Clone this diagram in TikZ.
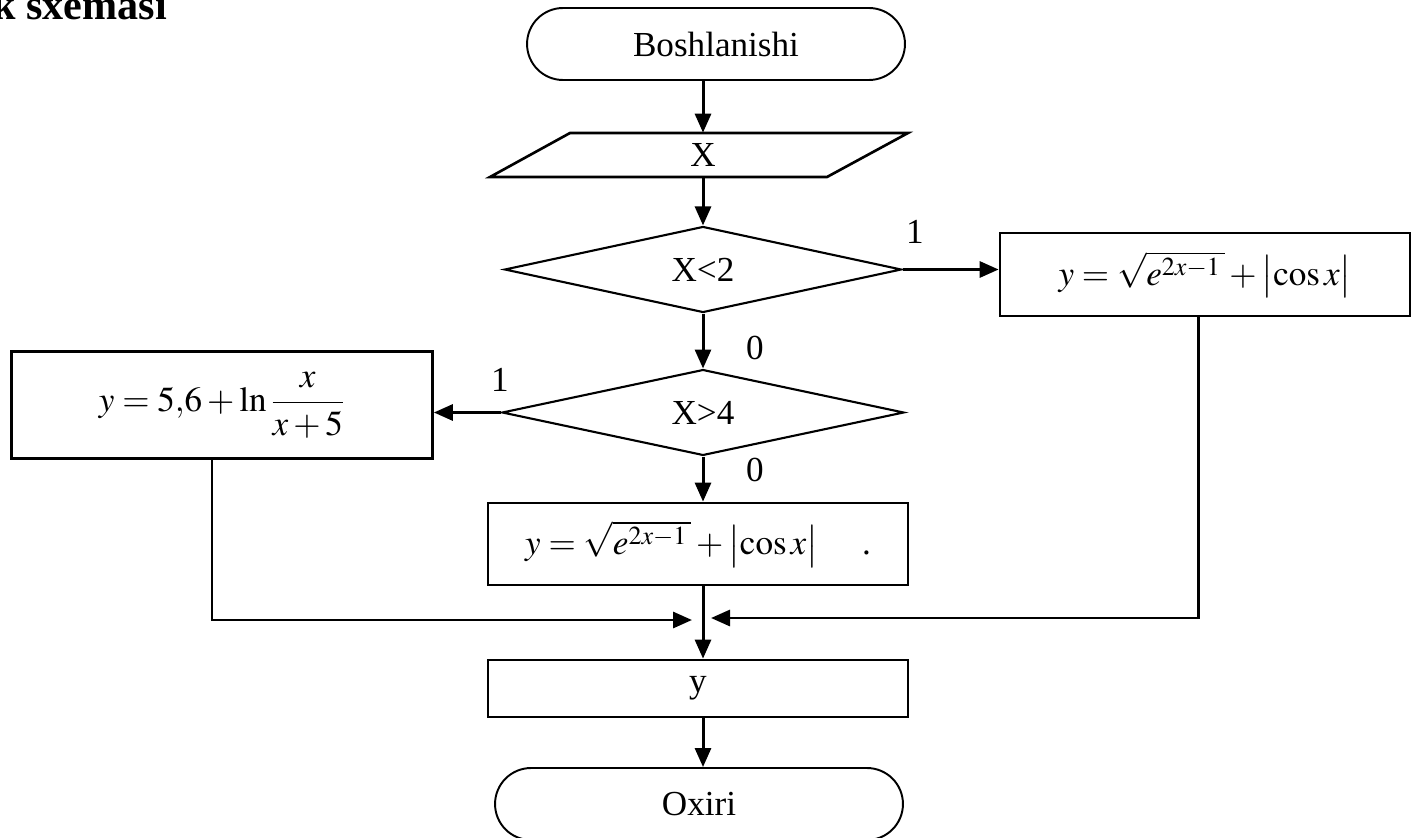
\documentclass[tikz,border=0pt]{standalone}
\usepackage{mathptmx}
\usepackage[no-math]{fontspec}
\setmainfont{Liberation Serif}
\usetikzlibrary{shapes.geometric,shapes.misc,arrows.meta}
\begin{document}
\begin{tikzpicture}[x=0.02cm,y=-0.02cm,
  line/.style={line width=1.5pt},
  arr/.style={line width=1.7pt,-{Triangle[length=0.38cm,width=0.32cm]}},
  box/.style={draw,line width=1.6pt,rectangle,inner sep=0pt},
  term/.style={draw,line width=1.1pt,rounded rectangle,inner sep=0pt},
  dec/.style={draw,line width=1.2pt,diamond,inner sep=0pt},
  lbl/.style={inner sep=0pt},
  font=\fontsize{20}{24}\selectfont]
\useasboundingbox (0,0) rectangle (1413,838);
\node[anchor=base west,inner sep=0pt,font=\fontsize{24}{28}\selectfont\bfseries] (title) at (-8,20) {k sxemasi};
\coordinate (col) at (703,0);
\coordinate (lx) at (212,0);
\coordinate (rx) at (1198,0);
\coordinate (jl) at (692,620);
\coordinate (jr) at (711,618);
\node[term,minimum width=7.56cm,minimum height=1.44cm] (start) at (716,44) {Boshlanishi};
\node[lbl,minimum width=6.76cm,minimum height=0.88cm] (inp) at (703,155) {X};
\draw[line] (570,133) -- (908,133) -- (827,177) -- (490,177) -- cycle;
\node[dec,minimum width=7.94cm,minimum height=1.42cm] (d1) at (703,269.5) {X<2};
\node[box,minimum width=8.2cm,minimum height=1.66cm] (rbox) at (1205,274.5) {$y=\sqrt{e^{2x-1}\,}+\bigl|\cos x\bigr|$};
\node[dec,minimum width=8.04cm,minimum height=1.42cm] (d2) at (703,412.5) {X>4};
\node[box,minimum width=8.42cm,minimum height=2.14cm] (lbox) at (222,405) {$y=5{,}6+\ln\displaystyle\frac{x}{x+5}$};
\node[box,minimum width=8.4cm,minimum height=1.64cm] (mbox) at (698,544) {$y=\sqrt{e^{2x-1}\,}+\bigl|\cos x\bigr|$\quad\ .};
\node[box,minimum width=8.4cm,minimum height=1.14cm] (ybox) at (698,688.5) {y};
\node[term,minimum width=8.16cm,minimum height=1.44cm] (end) at (699,804) {Oxiri};
\node[lbl] (l1) at (915,232) {1};
\node[lbl] (l2) at (755,348) {0};
\node[lbl] (l3) at (500,380) {1};
\node[lbl] (l4) at (755,470) {0};
\draw[arr] (start.south -| col) -- (inp.north -| col);
\draw[arr] (inp.south -| col) -- (d1.north);
\draw[arr] (d1.east) -- (d1.east -| rbox.west);
\draw[arr] (d1.south) -- (d2.north);
\draw[arr] (d2.west) -- (d2.west -| lbox.east);
\draw[arr] (d2.south) -- (mbox.north -| d2.south);
\draw[arr] (mbox.south -| col) -- (ybox.north -| col);
\draw[arr] (lbox.south -| lx) |- (jl);
\draw[arr] (rbox.south -| rx) |- (jr);
\draw[arr] (ybox.south -| col) -- (end.north -| col);
\end{tikzpicture}
\end{document}
